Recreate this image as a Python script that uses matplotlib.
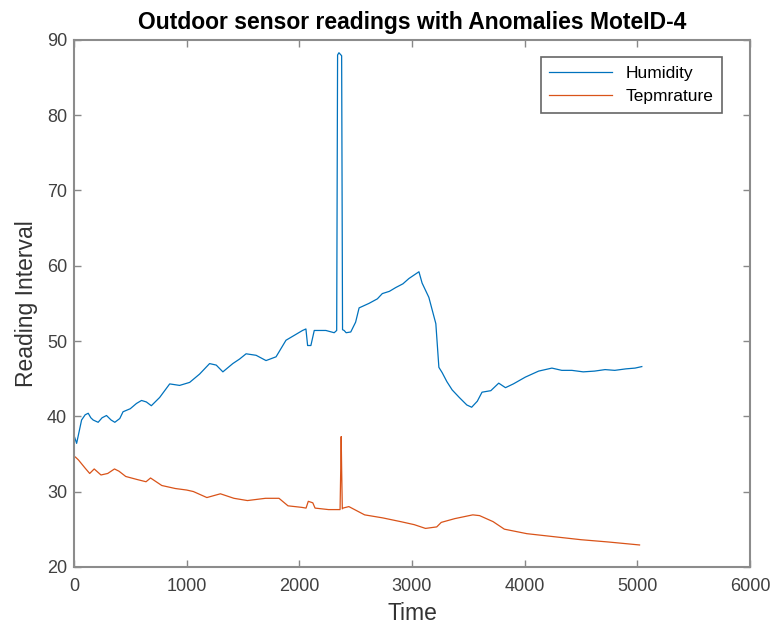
import matplotlib.pyplot as plt

plt.rcParams['font.family'] = ['Liberation Sans', 'DejaVu Sans']

# Humidity readings (time, value)
hum_t = [0, 24, 68, 100, 127, 150, 171, 215, 250, 289, 330, 363, 407, 436, 500,
         555, 600, 643, 687, 761, 850, 938, 1027, 1115, 1204, 1263, 1322, 1410,
         1470, 1528, 1617, 1705, 1794, 1882, 1950, 2029, 2059, 2074, 2103, 2133,
         2236, 2310, 2332, 2340, 2352, 2364, 2376, 2384, 2398, 2416,
         2457, 2500, 2531, 2619, 2693, 2737, 2800, 2856, 2920, 2973, 3062, 3090,
         3150, 3212, 3239, 3268, 3310, 3357, 3420, 3487, 3530, 3580, 3622, 3700,
         3770, 3830, 3900, 4006, 4124, 4242, 4330, 4419, 4520, 4620, 4714, 4800,
         4900, 4980, 5040]
hum_v = [37.5, 36.4, 39.5, 40.2, 40.4, 39.8, 39.5, 39.2, 39.8, 40.1, 39.5, 39.2,
         39.7, 40.6, 41.0, 41.7, 42.1, 41.9, 41.4, 42.5, 44.3, 44.1, 44.5, 45.6,
         47.0, 46.8, 45.9, 47.0, 47.6, 48.3, 48.1, 47.4, 47.9, 50.1, 50.7, 51.4,
         51.6, 49.4, 49.4, 51.4, 51.4, 51.1, 51.4, 88.0, 88.3, 88.1, 87.9,
         51.5, 51.4, 51.1, 51.2, 52.5, 54.4, 55.0, 55.6, 56.3, 56.6, 57.1,
         57.6, 58.3, 59.2, 57.7, 55.8, 52.3, 46.5, 45.8, 44.6, 43.5, 42.5, 41.5,
         41.2, 42.0, 43.2, 43.4, 44.4, 43.8, 44.3, 45.2, 46.0, 46.4, 46.1, 46.1,
         45.9, 46.0, 46.2, 46.1, 46.3, 46.4, 46.6]

# Temperature readings
tmp_t = [0, 12, 40, 100, 140, 180, 240, 300, 360, 400, 460, 560, 640, 680, 780,
         900, 1000, 1060, 1180, 1300, 1420, 1540, 1700, 1820, 1900, 2020, 2060,
         2080, 2120, 2140, 2260, 2362, 2368, 2372, 2376, 2382, 2388, 2440, 2580,
         2740, 2900, 3020, 3120, 3220, 3260, 3380, 3540, 3600, 3720, 3820, 4020,
         4260, 4500, 4740, 5020]
tmp_v = [34.5, 34.6, 34.2, 33.1, 32.4, 33.0, 32.2, 32.4, 33.0, 32.7, 32.0, 31.6,
         31.3, 31.8, 30.8, 30.4, 30.2, 30.0, 29.2, 29.7, 29.1, 28.8, 29.1, 29.1,
         28.1, 27.9, 27.8, 28.7, 28.5, 27.8, 27.6, 27.6, 33.0, 37.3, 33.0, 27.7,
         27.8, 28.0, 26.9, 26.5, 26.0, 25.6, 25.1, 25.3, 25.9, 26.4, 26.9, 26.8,
         26.0, 25.0, 24.4, 24.0, 23.6, 23.3, 22.9]

gray = '#404040'

fig = plt.figure(figsize=(7.7, 6.34), dpi=100)
ax = fig.add_axes([0.096, 0.106, 0.878, 0.831])

ax.plot(hum_t, hum_v, color='#0072BD', lw=0.9, label='Humidity')
ax.plot(tmp_t, tmp_v, color='#D95319', lw=0.9, label='Tepmrature')

ax.set_xlim(0, 6000)
ax.set_ylim(20, 90)
ax.set_xticks(range(0, 6001, 1000))
ax.set_yticks(range(20, 91, 10))
ax.tick_params(direction='in', top=True, right=True, labelsize=13,
               colors='#888888', labelcolor=gray, length=5, width=1)
ax.tick_params(axis='x', pad=8)
ax.tick_params(axis='y', pad=5)
for s in ax.spines.values():
    s.set_color('#8c8c8c')
    s.set_linewidth(1.5)

ax.set_title('Outdoor sensor readings with Anomalies MoteID-4',
             fontsize=16.5, fontweight='bold', pad=8)
ax.set_xlabel('Time', fontsize=16.5, color='#333333', labelpad=5)
ax.set_ylabel('Reading Interval', fontsize=16.5, color='#333333', labelpad=6)

leg = ax.legend(loc='upper right', bbox_to_anchor=(0.959, 0.968),
                borderaxespad=0, fontsize=12.5, fancybox=False,
                edgecolor='#666666', framealpha=1, handlelength=3.6,
                labelspacing=0.5, borderpad=0.5)
leg.get_frame().set_linewidth(1.2)

plt.savefig('out.png', dpi=100)
